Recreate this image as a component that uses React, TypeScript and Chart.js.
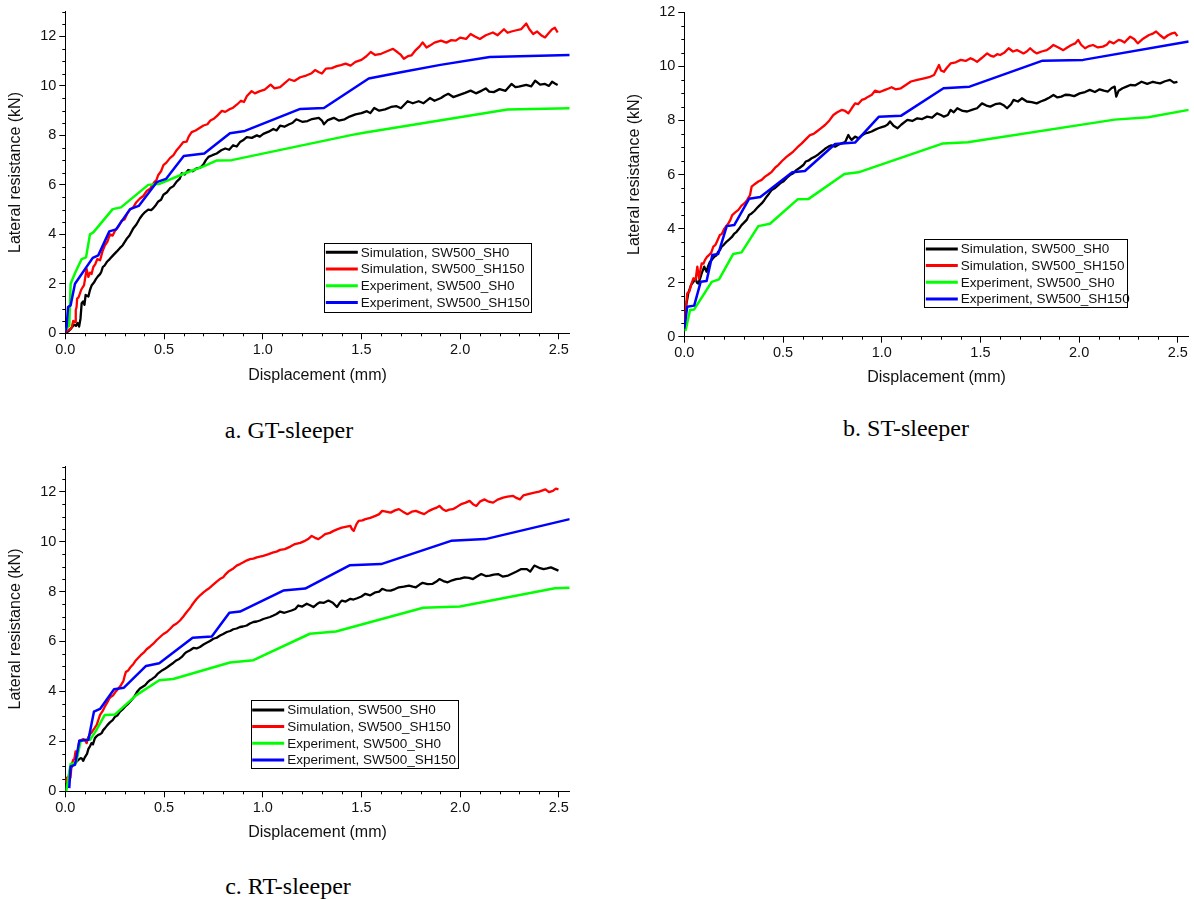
import React, { useEffect, useRef } from "react";
import { Chart, registerables } from "chart.js";

Chart.register(...registerables);

// ---------------- Labels ----------------
const seriesLabels = [
  "Simulation, SW500_SH0",
  "Simulation, SW500_SH150",
  "Experiment, SW500_SH0",
  "Experiment, SW500_SH150",
];
const seriesColors = ["#000000", "#ff0000", "#00ff00", "#0000ff"];
const xTitle = "Displacement (mm)";
const yTitle = "Lateral resistance (kN)";
const captions = ["a. GT-sleeper", "b. ST-sleeper", "c. RT-sleeper"];

const xMajorTicks = [0, 0.5, 1.0, 1.5, 2.0, 2.5];
const xMinorTicks = [0.1, 0.2, 0.3, 0.4, 0.6, 0.7, 0.8, 0.9, 1.1, 1.2, 1.3, 1.4, 1.6, 1.7, 1.8, 1.9, 2.1, 2.2, 2.3, 2.4];
const yMajorTicks = [0, 2, 4, 6, 8, 10, 12];
const yMinorTicks13 = [0.5, 1, 1.5, 2.5, 3, 3.5, 4.5, 5, 5.5, 6.5, 7, 7.5, 8.5, 9, 9.5, 10.5, 11, 11.5, 12.5, 13];
const yMinorTicks12 = [0.5, 1, 1.5, 2.5, 3, 3.5, 4.5, 5, 5.5, 6.5, 7, 7.5, 8.5, 9, 9.5, 10.5, 11, 11.5];

// ---------------- a. GT-sleeper ----------------
const gtSimSH0: [number, number][] = [
  [0, 0], [0.015, 0.08], [0.03, 0.2], [0.045, 0.35], [0.054, 0.3], [0.062, 0.42], [0.07, 0.27], [0.077, 0.6], [0.083, 1.22], [0.09, 1.29], [0.097, 1.15], [0.103, 1.55], [0.117, 1.49], [0.125, 1.75], [0.133, 1.93], [0.145, 2.05], [0.155, 2.19], [0.165, 2.3], [0.176, 2.39], [0.183, 2.5], [0.19, 2.68], [0.2, 2.75], [0.21, 2.88], [0.225, 3.0], [0.243, 3.16], [0.26, 3.3], [0.277, 3.45], [0.29, 3.55], [0.311, 3.82], [0.325, 3.95], [0.345, 4.25], [0.36, 4.4], [0.378, 4.65], [0.39, 4.78], [0.404, 4.9], [0.42, 5.0], [0.435, 4.98], [0.446, 5.06], [0.46, 5.2], [0.471, 5.33], [0.485, 5.4], [0.497, 5.6], [0.515, 5.7], [0.53, 5.86], [0.548, 5.95], [0.564, 6.13], [0.58, 6.25], [0.59, 6.47], [0.605, 6.42], [0.623, 6.6], [0.645, 6.55], [0.666, 6.67], [0.685, 6.7], [0.7, 6.83], [0.712, 7.0], [0.725, 7.13], [0.745, 7.2], [0.767, 7.27], [0.79, 7.4], [0.81, 7.47], [0.83, 7.42], [0.85, 7.6], [0.868, 7.55], [0.885, 7.73], [0.9, 7.8], [0.919, 7.93], [0.945, 7.9], [0.97, 8.0], [0.985, 7.95], [1.003, 8.06], [1.03, 8.15], [1.054, 8.26], [1.07, 8.2], [1.088, 8.39], [1.11, 8.35], [1.134, 8.45], [1.15, 8.5], [1.17, 8.65], [1.2, 8.55], [1.227, 8.58], [1.25, 8.66], [1.284, 8.71], [1.3, 8.6], [1.31, 8.45], [1.33, 8.62], [1.36, 8.71], [1.385, 8.6], [1.415, 8.65], [1.44, 8.76], [1.47, 8.85], [1.5, 8.9], [1.528, 8.98], [1.545, 8.9], [1.565, 9.11], [1.59, 9.0], [1.62, 9.05], [1.65, 9.15], [1.678, 9.18], [1.7, 9.1], [1.734, 9.38], [1.76, 9.3], [1.79, 9.38], [1.815, 9.3], [1.847, 9.51], [1.87, 9.4], [1.903, 9.51], [1.92, 9.6], [1.94, 9.68], [1.965, 9.55], [1.997, 9.64], [2.025, 9.72], [2.053, 9.81], [2.08, 9.7], [2.11, 9.81], [2.13, 9.9], [2.147, 9.77], [2.17, 9.75], [2.2, 9.87], [2.23, 9.8], [2.26, 10.08], [2.28, 9.95], [2.297, 9.97], [2.335, 10.04], [2.36, 9.98], [2.38, 10.21], [2.405, 10.05], [2.43, 10.08], [2.45, 10.0], [2.466, 10.17], [2.48, 10.1], [2.494, 10.04],
];
const gtSimSH150: [number, number][] = [
  [0, 0.05], [0.015, 0.13], [0.025, 0.17], [0.033, 0.25], [0.04, 0.5], [0.05, 0.45], [0.053, 0.93], [0.057, 1.06], [0.06, 1.4], [0.067, 1.45], [0.074, 1.6], [0.08, 1.75], [0.088, 1.86], [0.095, 1.95], [0.1, 2.2], [0.108, 2.6], [0.117, 2.28], [0.125, 2.45], [0.133, 2.4], [0.142, 2.68], [0.152, 2.8], [0.162, 3.0], [0.176, 2.95], [0.188, 3.3], [0.2, 3.55], [0.213, 3.7], [0.226, 4.0], [0.24, 3.95], [0.252, 4.15], [0.268, 4.3], [0.285, 4.55], [0.3, 4.6], [0.315, 4.85], [0.328, 5.0], [0.345, 5.1], [0.36, 5.3], [0.378, 5.45], [0.395, 5.55], [0.412, 5.75], [0.43, 5.85], [0.45, 6.1], [0.462, 6.2], [0.471, 6.4], [0.485, 6.55], [0.497, 6.8], [0.512, 6.9], [0.53, 7.08], [0.548, 7.2], [0.564, 7.4], [0.58, 7.55], [0.598, 7.73], [0.615, 7.75], [0.625, 7.95], [0.64, 8.13], [0.66, 8.2], [0.68, 8.3], [0.7, 8.4], [0.72, 8.45], [0.735, 8.6], [0.75, 8.66], [0.77, 8.8], [0.793, 8.99], [0.81, 8.95], [0.83, 9.05], [0.85, 9.12], [0.87, 9.25], [0.89, 9.4], [0.905, 9.35], [0.92, 9.59], [0.944, 9.79], [0.96, 9.7], [0.986, 9.79], [1.01, 9.85], [1.04, 10.05], [1.06, 9.9], [1.088, 9.95], [1.11, 10.1], [1.134, 10.27], [1.16, 10.2], [1.19, 10.35], [1.22, 10.42], [1.245, 10.5], [1.265, 10.64], [1.285, 10.55], [1.3, 10.5], [1.32, 10.7], [1.35, 10.72], [1.375, 10.8], [1.396, 10.84], [1.42, 10.9], [1.445, 10.82], [1.47, 10.97], [1.5, 11.05], [1.525, 11.2], [1.547, 11.37], [1.57, 11.25], [1.6, 11.3], [1.63, 11.4], [1.66, 11.5], [1.685, 11.35], [1.7, 11.25], [1.715, 11.1], [1.735, 11.2], [1.753, 11.23], [1.775, 11.45], [1.795, 11.6], [1.81, 11.76], [1.83, 11.55], [1.847, 11.63], [1.87, 11.75], [1.903, 11.83], [1.93, 11.75], [1.955, 11.85], [1.978, 11.83], [2.0, 11.95], [2.03, 11.9], [2.053, 12.1], [2.075, 12.0], [2.1, 11.9], [2.13, 12.05], [2.166, 12.16], [2.19, 12.05], [2.222, 12.29], [2.24, 12.15], [2.26, 12.2], [2.285, 12.25], [2.31, 12.3], [2.335, 12.52], [2.35, 12.3], [2.37, 12.1], [2.39, 12.2], [2.41, 12.05], [2.43, 11.96], [2.45, 12.15], [2.466, 12.29], [2.48, 12.35], [2.494, 12.16],
];
const gtExpSH0: [number, number][] = [
  [0, 0.1], [0.01, 0.25], [0.02, 0.3], [0.027, 2.0], [0.05, 2.45], [0.083, 3.0], [0.105, 3.07], [0.125, 4.0], [0.142, 4.08], [0.24, 5.02], [0.282, 5.09], [0.42, 6.0], [0.48, 6.05], [0.6, 6.45], [0.7, 6.75], [0.768, 6.99], [0.843, 7.0], [1.453, 8.02], [1.52, 8.12], [2.24, 9.05], [2.555, 9.1],
];
const gtExpSH150: [number, number][] = [
  [0, 0.05], [0.007, 0.3], [0.014, 1.06], [0.027, 1.13], [0.049, 2.0], [0.139, 3.05], [0.167, 3.15], [0.223, 4.12], [0.257, 4.2], [0.328, 5.02], [0.372, 5.15], [0.463, 6.11], [0.51, 6.24], [0.6, 7.17], [0.704, 7.27], [0.834, 8.09], [0.91, 8.18], [1.19, 9.07], [1.31, 9.11], [1.537, 10.3], [1.7, 10.55], [1.9, 10.85], [2.15, 11.17], [2.555, 11.25],
];

// ---------------- b. ST-sleeper ----------------
const stSimSH0: [number, number][] = [
  [0, 0.3], [0.008, 1.1], [0.02, 1.6], [0.034, 1.91], [0.046, 2.03], [0.057, 2.16], [0.064, 2.0], [0.071, 1.97], [0.08, 2.15], [0.088, 2.34], [0.101, 2.59], [0.113, 2.4], [0.12, 2.6], [0.13, 2.77], [0.14, 2.85], [0.152, 2.96], [0.162, 3.0], [0.172, 3.15], [0.18, 3.2], [0.189, 3.33], [0.2, 3.4], [0.215, 3.52], [0.228, 3.6], [0.24, 3.68], [0.252, 3.8], [0.265, 3.88], [0.278, 4.0], [0.29, 4.13], [0.3, 4.2], [0.316, 4.32], [0.328, 4.5], [0.341, 4.56], [0.355, 4.65], [0.367, 4.75], [0.38, 4.85], [0.392, 4.93], [0.405, 5.05], [0.417, 5.18], [0.43, 5.3], [0.443, 5.43], [0.46, 5.5], [0.476, 5.61], [0.49, 5.7], [0.502, 5.74], [0.52, 5.88], [0.535, 5.98], [0.552, 6.05], [0.569, 6.17], [0.585, 6.25], [0.603, 6.35], [0.615, 6.48], [0.628, 6.51], [0.645, 6.6], [0.662, 6.66], [0.68, 6.75], [0.696, 6.85], [0.713, 6.95], [0.73, 7.03], [0.745, 7.08], [0.764, 7.03], [0.78, 7.1], [0.797, 7.15], [0.815, 7.2], [0.831, 7.46], [0.84, 7.35], [0.848, 7.28], [0.865, 7.4], [0.882, 7.34], [0.9, 7.45], [0.916, 7.52], [0.932, 7.55], [0.949, 7.59], [0.965, 7.65], [0.983, 7.71], [1.0, 7.75], [1.017, 7.79], [1.03, 7.85], [1.042, 7.96], [1.06, 7.8], [1.08, 7.71], [1.1, 7.85], [1.13, 8.02], [1.155, 7.98], [1.18, 8.08], [1.205, 8.05], [1.23, 8.14], [1.255, 8.1], [1.28, 8.26], [1.3, 8.2], [1.315, 8.14], [1.335, 8.2], [1.349, 8.39], [1.365, 8.3], [1.383, 8.45], [1.41, 8.35], [1.433, 8.33], [1.46, 8.4], [1.483, 8.45], [1.508, 8.63], [1.53, 8.55], [1.55, 8.51], [1.575, 8.6], [1.6, 8.63], [1.62, 8.55], [1.635, 8.45], [1.655, 8.6], [1.668, 8.76], [1.69, 8.7], [1.71, 8.82], [1.735, 8.7], [1.76, 8.68], [1.785, 8.63], [1.805, 8.7], [1.827, 8.76], [1.85, 8.85], [1.87, 8.94], [1.89, 8.85], [1.91, 8.88], [1.93, 8.95], [1.953, 8.94], [1.975, 8.9], [2.003, 9.0], [2.03, 9.05], [2.054, 9.13], [2.08, 9.05], [2.104, 9.15], [2.125, 9.1], [2.146, 9.07], [2.165, 9.2], [2.18, 9.25], [2.188, 8.88], [2.2, 9.1], [2.22, 9.19], [2.24, 9.25], [2.259, 9.31], [2.285, 9.3], [2.316, 9.43], [2.345, 9.35], [2.374, 9.43], [2.39, 9.4], [2.41, 9.37], [2.435, 9.45], [2.46, 9.5], [2.48, 9.4], [2.498, 9.43],
];
const stSimSH150: [number, number][] = [
  [0, 0.62], [0.007, 0.99], [0.015, 1.6], [0.025, 1.67], [0.037, 1.97], [0.046, 2.16], [0.057, 2.1], [0.066, 2.59], [0.074, 2.16], [0.08, 2.4], [0.088, 2.71], [0.097, 2.7], [0.105, 2.84], [0.115, 2.95], [0.125, 3.02], [0.136, 3.1], [0.147, 3.33], [0.158, 3.4], [0.169, 3.58], [0.18, 3.76], [0.19, 3.8], [0.203, 4.0], [0.213, 4.1], [0.223, 4.19], [0.232, 4.3], [0.243, 4.5], [0.258, 4.6], [0.274, 4.69], [0.29, 4.85], [0.304, 4.93], [0.318, 5.05], [0.333, 5.24], [0.341, 5.55], [0.358, 5.65], [0.375, 5.74], [0.392, 5.8], [0.409, 5.92], [0.425, 6.0], [0.443, 6.1], [0.46, 6.25], [0.476, 6.35], [0.495, 6.5], [0.519, 6.66], [0.535, 6.75], [0.552, 6.85], [0.572, 7.0], [0.595, 7.15], [0.615, 7.3], [0.637, 7.46], [0.655, 7.5], [0.671, 7.59], [0.69, 7.7], [0.713, 7.83], [0.735, 8.0], [0.755, 8.2], [0.775, 8.3], [0.797, 8.39], [0.815, 8.35], [0.831, 8.26], [0.848, 8.45], [0.865, 8.63], [0.88, 8.6], [0.899, 8.76], [0.915, 8.8], [0.932, 8.88], [0.95, 8.95], [0.966, 9.1], [0.99, 9.05], [1.017, 9.13], [1.035, 9.18], [1.05, 9.23], [1.07, 9.15], [1.097, 9.19], [1.12, 9.3], [1.148, 9.44], [1.18, 9.5], [1.215, 9.56], [1.24, 9.6], [1.265, 9.68], [1.29, 10.05], [1.3, 9.85], [1.315, 9.8], [1.33, 9.95], [1.349, 10.11], [1.375, 10.15], [1.4, 10.24], [1.425, 10.2], [1.45, 10.3], [1.465, 10.25], [1.483, 10.17], [1.505, 10.3], [1.534, 10.48], [1.55, 10.4], [1.567, 10.36], [1.585, 10.45], [1.6, 10.42], [1.62, 10.5], [1.643, 10.67], [1.665, 10.55], [1.685, 10.6], [1.7, 10.55], [1.718, 10.48], [1.735, 10.55], [1.752, 10.67], [1.77, 10.55], [1.785, 10.48], [1.81, 10.55], [1.836, 10.6], [1.855, 10.7], [1.87, 10.79], [1.895, 10.7], [1.92, 10.6], [1.94, 10.7], [1.961, 10.79], [1.98, 10.85], [1.995, 10.98], [2.01, 10.8], [2.03, 10.67], [2.05, 10.75], [2.07, 10.79], [2.095, 10.7], [2.12, 10.73], [2.14, 10.8], [2.154, 10.92], [2.175, 10.85], [2.2, 10.98], [2.215, 10.95], [2.23, 10.88], [2.245, 11.0], [2.259, 11.1], [2.28, 11.0], [2.297, 10.85], [2.32, 11.0], [2.354, 11.16], [2.37, 11.2], [2.39, 11.29], [2.41, 11.15], [2.43, 11.04], [2.45, 11.15], [2.47, 11.22], [2.485, 11.25], [2.498, 11.12],
];
const stExpSH0: [number, number][] = [
  [0, 0.25], [0.007, 0.25], [0.029, 0.99], [0.05, 1.01], [0.139, 2.03], [0.176, 2.12], [0.248, 3.06], [0.29, 3.12], [0.375, 4.09], [0.434, 4.18], [0.574, 5.08], [0.628, 5.09], [0.811, 6.02], [0.882, 6.08], [1.311, 7.15], [1.436, 7.19], [2.18, 8.03], [2.35, 8.12], [2.555, 8.39],
];
const stExpSH150: [number, number][] = [
  [0, 0.3], [0.015, 1.11], [0.05, 1.15], [0.083, 2.03], [0.113, 2.06], [0.142, 3.02], [0.172, 3.06], [0.215, 4.09], [0.253, 4.13], [0.328, 5.1], [0.385, 5.17], [0.547, 6.08], [0.611, 6.13], [0.764, 7.13], [0.865, 7.18], [0.986, 8.14], [1.097, 8.17], [1.313, 9.19], [1.445, 9.25], [1.815, 10.21], [2.02, 10.24], [2.555, 10.92],
];

// ---------------- c. RT-sleeper ----------------
const rtSimSH0: [number, number][] = [
  [0, 0], [0.007, 0.33], [0.017, 0.53], [0.024, 0.86], [0.03, 0.95], [0.037, 1.04], [0.049, 1.13], [0.058, 1.2], [0.066, 1.26], [0.078, 1.33], [0.085, 1.3], [0.091, 1.22], [0.098, 1.35], [0.105, 1.44], [0.11, 1.5], [0.117, 1.7], [0.125, 1.8], [0.133, 1.93], [0.14, 1.88], [0.15, 2.13], [0.158, 2.2], [0.167, 2.26], [0.175, 2.28], [0.184, 2.33], [0.192, 2.45], [0.2, 2.52], [0.213, 2.65], [0.226, 2.76], [0.24, 2.85], [0.252, 2.99], [0.265, 3.05], [0.277, 3.19], [0.29, 3.28], [0.302, 3.39], [0.315, 3.48], [0.328, 3.59], [0.34, 3.7], [0.353, 3.83], [0.365, 4.0], [0.378, 4.12], [0.39, 4.18], [0.404, 4.25], [0.415, 4.35], [0.429, 4.45], [0.44, 4.5], [0.454, 4.58], [0.467, 4.7], [0.48, 4.78], [0.492, 4.85], [0.505, 4.91], [0.518, 4.98], [0.53, 5.05], [0.548, 5.15], [0.564, 5.25], [0.577, 5.3], [0.59, 5.38], [0.603, 5.5], [0.615, 5.58], [0.632, 5.65], [0.649, 5.74], [0.665, 5.72], [0.682, 5.78], [0.7, 5.88], [0.716, 5.95], [0.733, 6.02], [0.75, 6.11], [0.767, 6.15], [0.784, 6.24], [0.8, 6.3], [0.818, 6.38], [0.835, 6.42], [0.851, 6.49], [0.868, 6.52], [0.885, 6.58], [0.9, 6.6], [0.919, 6.64], [0.935, 6.72], [0.953, 6.78], [0.97, 6.8], [0.986, 6.84], [1.003, 6.9], [1.02, 6.94], [1.037, 6.98], [1.054, 7.04], [1.07, 7.1], [1.088, 7.2], [1.11, 7.15], [1.13, 7.2], [1.146, 7.24], [1.165, 7.3], [1.18, 7.44], [1.2, 7.4], [1.223, 7.51], [1.24, 7.45], [1.257, 7.38], [1.275, 7.5], [1.29, 7.57], [1.31, 7.55], [1.333, 7.64], [1.355, 7.55], [1.376, 7.38], [1.39, 7.55], [1.401, 7.64], [1.42, 7.6], [1.444, 7.71], [1.46, 7.68], [1.478, 7.73], [1.5, 7.8], [1.52, 7.91], [1.545, 7.85], [1.571, 7.97], [1.59, 8.0], [1.605, 8.11], [1.625, 8.05], [1.648, 8.04], [1.67, 8.1], [1.69, 8.17], [1.715, 8.2], [1.741, 8.24], [1.76, 8.2], [1.776, 8.17], [1.795, 8.28], [1.81, 8.35], [1.835, 8.3], [1.861, 8.31], [1.88, 8.4], [1.895, 8.5], [1.915, 8.42], [1.937, 8.37], [1.96, 8.45], [1.98, 8.5], [2.0, 8.52], [2.022, 8.57], [2.045, 8.55], [2.065, 8.5], [2.085, 8.6], [2.107, 8.7], [2.13, 8.62], [2.15, 8.64], [2.17, 8.68], [2.192, 8.7], [2.215, 8.6], [2.243, 8.64], [2.265, 8.72], [2.286, 8.8], [2.31, 8.9], [2.338, 8.9], [2.355, 8.8], [2.376, 9.04], [2.4, 8.95], [2.423, 8.9], [2.44, 8.93], [2.46, 8.97], [2.48, 8.9], [2.498, 8.84],
];
const rtSimSH150: [number, number][] = [
  [0, 0.33], [0.007, 0.53], [0.02, 0.6], [0.026, 0.55], [0.032, 1.06], [0.04, 1.26], [0.046, 1.3], [0.052, 1.6], [0.06, 1.4], [0.065, 1.7], [0.071, 2.02], [0.08, 2.05], [0.091, 2.09], [0.1, 2.05], [0.108, 1.93], [0.116, 2.15], [0.125, 2.29], [0.133, 2.35], [0.142, 2.46], [0.15, 2.55], [0.159, 2.66], [0.167, 2.85], [0.176, 3.06], [0.188, 3.2], [0.2, 3.39], [0.212, 3.55], [0.223, 3.72], [0.233, 3.8], [0.243, 3.85], [0.256, 4.0], [0.269, 4.12], [0.282, 4.25], [0.294, 4.41], [0.3, 4.6], [0.307, 4.78], [0.32, 4.85], [0.331, 4.98], [0.345, 5.1], [0.358, 5.25], [0.37, 5.35], [0.382, 5.45], [0.397, 5.55], [0.412, 5.69], [0.43, 5.8], [0.446, 5.91], [0.462, 6.05], [0.48, 6.18], [0.497, 6.3], [0.514, 6.38], [0.53, 6.5], [0.547, 6.64], [0.564, 6.72], [0.581, 6.84], [0.598, 7.0], [0.615, 7.18], [0.628, 7.3], [0.64, 7.44], [0.653, 7.58], [0.666, 7.71], [0.683, 7.85], [0.7, 7.97], [0.713, 8.05], [0.725, 8.11], [0.745, 8.25], [0.767, 8.4], [0.783, 8.5], [0.8, 8.57], [0.813, 8.7], [0.826, 8.8], [0.847, 8.9], [0.868, 9.04], [0.885, 9.1], [0.902, 9.17], [0.92, 9.25], [0.936, 9.3], [0.953, 9.32], [0.97, 9.37], [0.986, 9.4], [1.003, 9.43], [1.03, 9.5], [1.054, 9.57], [1.07, 9.6], [1.088, 9.67], [1.112, 9.7], [1.14, 9.8], [1.163, 9.9], [1.19, 9.95], [1.214, 10.03], [1.23, 10.1], [1.248, 10.23], [1.265, 10.15], [1.282, 10.1], [1.3, 10.2], [1.316, 10.3], [1.34, 10.35], [1.359, 10.43], [1.38, 10.5], [1.401, 10.56], [1.425, 10.6], [1.444, 10.63], [1.452, 10.5], [1.461, 10.43], [1.475, 10.7], [1.486, 10.83], [1.505, 10.85], [1.52, 10.9], [1.545, 10.95], [1.571, 11.03], [1.59, 11.1], [1.605, 11.23], [1.625, 11.2], [1.648, 11.16], [1.67, 11.25], [1.69, 11.3], [1.71, 11.2], [1.733, 11.1], [1.755, 11.2], [1.776, 11.23], [1.8, 11.15], [1.818, 11.1], [1.84, 11.22], [1.861, 11.3], [1.878, 11.35], [1.895, 11.43], [1.912, 11.3], [1.929, 11.23], [1.945, 11.28], [1.963, 11.3], [1.985, 11.4], [2.005, 11.5], [2.025, 11.55], [2.048, 11.63], [2.065, 11.5], [2.082, 11.43], [2.1, 11.6], [2.124, 11.69], [2.145, 11.6], [2.167, 11.56], [2.19, 11.68], [2.218, 11.76], [2.24, 11.8], [2.269, 11.83], [2.285, 11.75], [2.303, 11.69], [2.32, 11.85], [2.345, 11.9], [2.376, 11.96], [2.4, 12.0], [2.432, 12.09], [2.45, 11.98], [2.47, 12.03], [2.485, 12.12], [2.498, 12.09],
];
const rtExpSH0: [number, number][] = [
  [0.005, 0], [0.015, 0.53], [0.027, 1.09], [0.054, 1.13], [0.078, 2.02], [0.1, 2.06], [0.125, 2.06], [0.155, 2.42], [0.2, 3.06], [0.252, 3.08], [0.36, 3.85], [0.476, 4.45], [0.547, 4.5], [0.834, 5.16], [0.953, 5.25], [1.239, 6.31], [1.371, 6.4], [1.813, 7.35], [1.999, 7.4], [2.48, 8.13], [2.555, 8.15],
];
const rtExpSH150: [number, number][] = [
  [0.02, 0.13], [0.027, 1.0], [0.049, 1.06], [0.071, 2.02], [0.117, 2.06], [0.145, 3.19], [0.176, 3.3], [0.247, 4.09], [0.297, 4.15], [0.409, 5.02], [0.476, 5.13], [0.645, 6.15], [0.742, 6.2], [0.831, 7.15], [0.885, 7.2], [1.104, 8.04], [1.215, 8.12], [1.44, 9.05], [1.6, 9.1], [1.954, 10.03], [2.128, 10.1], [2.555, 10.9],
];

// ---------------- styling / layout ----------------
const SANS = "'Liberation Sans', Arial, Helvetica, sans-serif";
const SERIF = "'Liberation Serif', 'Times New Roman', Times, serif";
const X_MAX = 2.555;

type Panel = {
  left: number; top: number; width: number; height: number;
  yMax: number; yMinor: number[];
  pad: { left: number; top: number; right: number; bottom: number };
  yWidth: number; yTitlePad: number; xTitlePad: number;
  legend: { x: number; y: number; w: number; h: number };
  series: [number, number][][];
};

const panels: Panel[] = [
  {
    left: 0, top: 0, width: 590, height: 400, yMax: 13, yMinor: yMinorTicks13,
    pad: { left: 0, top: 7.3, right: 20.3, bottom: 6.7 }, yWidth: 65.3, yTitlePad: 6, xTitlePad: 7.9,
    legend: { x: 324.3, y: 242.7, w: 207, h: 69 },
    series: [gtSimSH0, gtSimSH150, gtExpSH0, gtExpSH150],
  },
  {
    left: 600, top: 0, width: 594, height: 400, yMax: 12, yMinor: yMinorTicks12,
    pad: { left: 0, top: 12.3, right: 5.3, bottom: 3.3 }, yWidth: 84.3, yTitlePad: 25.3, xTitlePad: 9.6,
    legend: { x: 324.3, y: 239.3, w: 203, h: 68 },
    series: [stSimSH0, stSimSH150, stExpSH0, stExpSH150],
  },
  {
    left: 0, top: 455, width: 590, height: 400, yMax: 13, yMinor: yMinorTicks13,
    pad: { left: 0, top: 10.3, right: 20.3, bottom: 3.7 }, yWidth: 65.3, yTitlePad: 6, xTitlePad: 8.7,
    legend: { x: 250.7, y: 245.3, w: 206.7, h: 68.4 },
    series: [rtSimSH0, rtSimSH150, rtExpSH0, rtExpSH150],
  },
];

const captionPos = [
  { x: 289, y: 430 },
  { x: 906, y: 428 },
  { x: 288, y: 886 },
];

const minorTicksPlugin = {
  id: "minorTicks",
  afterDraw(chart: any, _args: any, opts: any) {
    const { ctx, chartArea, scales } = chart;
    const x = scales.x, y = scales.y;
    ctx.save();
    ctx.strokeStyle = "#000";
    ctx.lineWidth = 1;
    ctx.beginPath();
    for (const v of opts.xMinor || []) {
      const px = Math.round(x.getPixelForValue(v)) + 0.5;
      ctx.moveTo(px, chartArea.bottom);
      ctx.lineTo(px, chartArea.bottom + opts.len);
    }
    for (const v of opts.yMinor || []) {
      const py = Math.round(y.getPixelForValue(v)) + 0.5;
      ctx.moveTo(chartArea.left, py);
      ctx.lineTo(chartArea.left - opts.len, py);
    }
    ctx.stroke();
    ctx.restore();
  },
};

const boxLegendPlugin = {
  id: "boxLegend",
  afterDraw(chart: any, _args: any, opts: any) {
    const { ctx } = chart;
    const { x, y, w, h } = opts;
    ctx.save();
    ctx.fillStyle = "#fff";
    ctx.fillRect(x, y, w, h);
    ctx.strokeStyle = "#000";
    ctx.lineWidth = 1;
    ctx.strokeRect(Math.round(x) + 0.5, Math.round(y) + 0.5, Math.round(w), Math.round(h));
    chart.data.datasets.forEach((ds: any, i: number) => {
      const cy = y + opts.firstRow + i * opts.rowH;
      ctx.strokeStyle = ds.borderColor;
      ctx.lineWidth = 3;
      ctx.beginPath();
      ctx.moveTo(x + 1.5, cy);
      ctx.lineTo(x + 1.5 + opts.sampleLen, cy);
      ctx.stroke();
      ctx.fillStyle = "#111";
      ctx.font = opts.font;
      ctx.textBaseline = "middle";
      ctx.textAlign = "left";
      ctx.fillText(ds.label, x + opts.textX, cy + 0.5);
    });
    ctx.restore();
  },
};

function buildConfig(p: Panel): any {
  const datasets = p.series.map((s, i) => ({
    label: seriesLabels[i],
    data: s.map(([x, y]) => ({ x, y })),
    borderColor: seriesColors[i],
    backgroundColor: seriesColors[i],
    borderWidth: i < 2 ? 2.3 : 2.5,
    pointRadius: 0,
    fill: false,
    tension: 0,
    borderJoinStyle: "round",
    order: 4 - i,
  }));
  const gridOpts = {
    display: true,
    drawOnChartArea: false,
    drawTicks: true,
    tickLength: 6,
    color: "#000",
    tickColor: "#000",
    lineWidth: 1,
  };
  return {
    type: "line",
    data: { datasets },
    plugins: [minorTicksPlugin, boxLegendPlugin],
    options: {
      responsive: false,
      animation: false,
      devicePixelRatio: 1,
      events: [],
      layout: { padding: p.pad },
      plugins: {
        legend: { display: false },
        tooltip: { enabled: false },
        title: { display: false },
        minorTicks: { xMinor: xMinorTicks, yMinor: p.yMinor, len: 3 },
        boxLegend: {
          ...p.legend,
          firstRow: 9.6,
          rowH: 16.7,
          sampleLen: 32,
          textX: 36.5,
          font: `13.5px ${SANS}`,
        },
      },
      scales: {
        x: {
          type: "linear",
          min: 0,
          max: X_MAX,
          afterBuildTicks: (s: any) => {
            s.ticks = xMajorTicks.map((v) => ({ value: v }));
          },
          afterFit: (s: any) => {
            s.height = 60;
          },
          ticks: {
            autoSkip: false,
            maxRotation: 0,
            padding: 2,
            color: "#111",
            font: { family: SANS, size: 14.5 },
            callback: (v: any) => Number(v).toFixed(1),
          },
          title: {
            display: true,
            text: xTitle,
            color: "#111",
            font: { family: SANS, size: 16 },
            padding: { top: 0, bottom: p.xTitlePad },
          },
          grid: gridOpts,
          border: { display: true, color: "#000", width: 1 },
        },
        y: {
          type: "linear",
          min: 0,
          max: p.yMax,
          afterBuildTicks: (s: any) => {
            s.ticks = yMajorTicks.map((v) => ({ value: v }));
          },
          afterFit: (s: any) => {
            s.width = p.yWidth;
          },
          ticks: {
            autoSkip: false,
            padding: 3,
            color: "#111",
            font: { family: SANS, size: 14.5 },
            callback: (v: any) => String(v),
          },
          title: {
            display: true,
            text: yTitle,
            color: "#111",
            font: { family: SANS, size: 16 },
            padding: { top: p.yTitlePad, bottom: 0 },
          },
          grid: gridOpts,
          border: { display: true, color: "#000", width: 1 },
        },
      },
    },
  };
}

function ChartPanel({ panel }: { panel: Panel }) {
  const ref = useRef<HTMLCanvasElement | null>(null);
  useEffect(() => {
    if (!ref.current) return;
    const chart = new Chart(ref.current, buildConfig(panel));
    return () => chart.destroy();
  }, [panel]);
  return (
    <canvas
      ref={ref}
      width={panel.width}
      height={panel.height}
      style={{
        position: "absolute",
        left: panel.left,
        top: panel.top,
        width: panel.width,
        height: panel.height,
      }}
    />
  );
}

export default function App() {
  return (
    <div
      style={{
        position: "absolute",
        left: 0,
        top: 0,
        width: 1194,
        height: 899,
        overflow: "hidden",
        background: "#fff",
      }}
    >
      {panels.map((p, i) => (
        <ChartPanel key={i} panel={p} />
      ))}
      {captions.map((c, i) => (
        <div
          key={c}
          style={{
            position: "absolute",
            left: captionPos[i].x,
            top: captionPos[i].y,
            transform: "translate(-50%, -50%)",
            fontFamily: SERIF,
            fontSize: 24,
            lineHeight: "28px",
            color: "#000",
            whiteSpace: "nowrap",
          }}
        >
          {c}
        </div>
      ))}
    </div>
  );
}
